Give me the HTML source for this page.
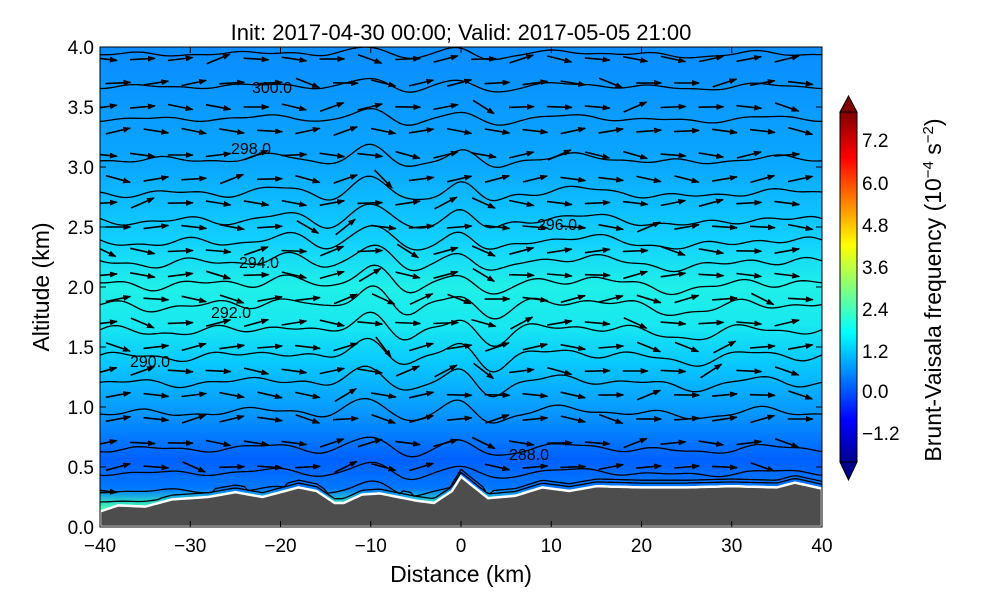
<!DOCTYPE html>
<html><head><meta charset="utf-8"><style>
html,body{margin:0;padding:0;background:#fff;}
svg{display:block;font-family:"Liberation Sans",sans-serif;}
</style></head><body>
<svg id="s" width="1000" height="600" xmlns="http://www.w3.org/2000/svg">
<defs>
<linearGradient id="bg" x1="0" y1="0" x2="0" y2="1">
<stop offset="0" stop-color="#0a8cff"/>
<stop offset="0.25" stop-color="#0aa8ff"/>
<stop offset="0.4" stop-color="#10d0ff"/>
<stop offset="0.5" stop-color="#20f0e8"/>
<stop offset="0.58" stop-color="#18e8f0"/>
<stop offset="0.66" stop-color="#08c8ff"/>
<stop offset="0.76" stop-color="#0898ff"/>
<stop offset="0.86" stop-color="#0060ff"/>
<stop offset="0.92" stop-color="#0078ff"/>
<stop offset="0.96" stop-color="#40ffb0"/>
<stop offset="1" stop-color="#c0ff40"/>
</linearGradient>
<linearGradient id="cb" x1="0" y1="1" x2="0" y2="0">
<stop offset="0" stop-color="#00008f"/>
<stop offset="0.12" stop-color="#0000ff"/>
<stop offset="0.37" stop-color="#00ffff"/>
<stop offset="0.62" stop-color="#ffff00"/>
<stop offset="0.87" stop-color="#ff0000"/>
<stop offset="1" stop-color="#800000"/>
</linearGradient>
<clipPath id="pc"><rect x="100" y="47" width="722" height="480"/></clipPath>
<marker id="ah" markerWidth="8" markerHeight="6" refX="7" refY="3" orient="auto" markerUnits="userSpaceOnUse"><path d="M0,0 L8,3 L0,6 z" fill="#000"/></marker>
</defs>
<rect x="100" y="47" width="722" height="480" fill="url(#bg)"/>
<g id="cont" clip-path="url(#pc)" fill="none" stroke="#000" stroke-width="1.3"></g>
<g id="arr" clip-path="url(#pc)" stroke="#000" stroke-width="1.6"></g>
<path id="ter" clip-path="url(#pc)" fill="#4d4d4d" stroke="#fff" stroke-width="2.5"/>
<g font-size="16" fill="#000">
<text x="252" y="93">300.0</text>
<text x="231" y="154">298.0</text>
<text x="537" y="230">296.0</text>
<text x="239" y="268">294.0</text>
<text x="211" y="318">292.0</text>
<text x="130" y="367">290.0</text>
<text x="509" y="460">288.0</text>
</g>
<rect x="100" y="47" width="722" height="480" fill="none" stroke="#000" stroke-width="1"/>
<g id="ticks" stroke="#000"></g>
<g font-size="19" fill="#000" id="tl"></g>
<text x="461" y="40" font-size="22" text-anchor="middle">Init: 2017-04-30 00:00; Valid: 2017-05-05 21:00</text>
<text x="461" y="582" font-size="23" text-anchor="middle">Distance (km)</text>
<text transform="translate(49,287) rotate(-90)" font-size="23" text-anchor="middle">Altitude (km)</text>
<rect x="840" y="112" width="17" height="350" fill="url(#cb)" stroke="#000" stroke-width="1"/>
<path d="M840,112 L848.5,96 L857,112 z" fill="#800000" stroke="#000"/>
<path d="M840,462 L848.5,480 L857,462 z" fill="#00008f" stroke="#000"/>
<g font-size="19" fill="#000">
<text x="862" y="147">7.2</text><text x="862" y="190">6.0</text><text x="862" y="232">4.8</text>
<text x="862" y="274">3.6</text><text x="862" y="316">2.4</text><text x="862" y="358">1.2</text>
<text x="862" y="398">0.0</text><text x="862" y="440">−1.2</text>
</g>
<text transform="translate(941,290) rotate(-90)" font-size="23" text-anchor="middle">Brunt-Vaisala frequency (10<tspan font-size="15" dy="-8">−4</tspan><tspan dy="8"> s</tspan><tspan font-size="15" dy="-8">−2</tspan><tspan dy="8">)</tspan></text>
</svg>
<script>
var NS="http://www.w3.org/2000/svg";
function X(k){return 100+(k+40)*722/80;}
function Y(a){return 527-a*120;}
function el(t,a,p){var e=document.createElementNS(NS,t);for(var k in a)e.setAttribute(k,a[k]);p.appendChild(e);return e;}
function g(x,c,w){return Math.exp(-(x-c)*(x-c)/(2*w*w));}
function terr(x){
 var pts=[[-40,0.13],[-38,0.18],[-35,0.17],[-32,0.23],[-28,0.25],[-25,0.29],[-22,0.25],[-18,0.33],[-16,0.3],[-14,0.2],[-13,0.2],[-11,0.27],[-9,0.28],[-5,0.22],[-3,0.2],[-1,0.3],[0,0.42],[1,0.36],[3,0.24],[6,0.26],[9,0.33],[12,0.3],[15,0.34],[20,0.33],[25,0.33],[30,0.34],[35,0.33],[37,0.37],[40,0.32]];
 for(var i=0;i<pts.length-1;i++){if(x>=pts[i][0]&&x<=pts[i+1][0]){var t=(x-pts[i][0])/(pts[i+1][0]-pts[i][0]);return pts[i][1]+t*(pts[i+1][1]-pts[i][1]);}}
 return 0.3;}
var d="M100,527";
for(var x=-40;x<=40;x+=0.5)d+=" L"+X(x).toFixed(1)+","+Y(terr(x)).toFixed(1);
d+=" L822,527 z";document.getElementById("ter").setAttribute("d",d);
function disp(x,a){
 var amp=Math.min(1,Math.max(0.35,1-Math.abs(a-1.9)/2.4));
 var v=0.2*g(x,-10,1.8)+0.14*g(x,0,1.5)-0.1*g(x,-6,1.6)-0.12*g(x,3.5,1.6)+0.06*g(x,-20,2.5)-0.05*g(x,-15,1.5)+0.06*g(x,12,3)-0.05*g(x,26,3)+0.04*g(x,33,2.5)
   +0.035*Math.sin(x*0.55+a*2.3)+0.02*Math.sin(x*1.1-a*4);
 return v*amp;}
var cg=document.getElementById("cont");
var levels=[0.22,0.3,0.45,0.65,0.95,1.2,1.42,1.63,1.84,2.02,2.2,2.37,2.55,2.78,3.06,3.4,3.67,3.94];
levels.forEach(function(a){
 var p="";
 for(var x=-40;x<=40;x+=0.4){
  var yy=a+disp(x,a);
  var t=terr(x)+0.03; if(a<0.5&&yy<t) yy=t+(a-0.2)*0.3;
  p+=(p?" L":"M")+X(x).toFixed(1)+","+Y(yy).toFixed(1);}
 el("path",{d:p},cg);});
var ag=document.getElementById("arr");
for(var a=0.3;a<4.0;a+=0.2){
 for(var x=-39.5;x<40;x+=4.2){
  var xx=x+((Math.round(a*5))%2)*1.5;
  if(a<terr(xx)+0.15)continue;
  var s=disp(xx+0.6,a)-disp(xx-0.6,a);
  var ang=Math.atan2(s*7,1)+0.22*Math.sin(xx*1.7+a*9)+0.12*Math.cos(xx*0.9-a*5);
  var L=25;
  var x0=X(xx),y0=Y(a);
  var dx=L*Math.cos(ang),dy=-L*Math.sin(ang);
  el("line",{x1:(x0-dx/2).toFixed(1),y1:(y0-dy/2).toFixed(1),x2:(x0+dx/2).toFixed(1),y2:(y0+dy/2).toFixed(1),"marker-end":"url(#ah)"},ag);}}
var tk=document.getElementById("ticks"),tl=document.getElementById("tl");
for(var k=-40;k<=40;k+=10){var xx=X(k);
 el("line",{x1:xx,y1:527,x2:xx,y2:521},tk);el("line",{x1:xx,y1:47,x2:xx,y2:53},tk);
 var t=el("text",{x:xx,y:552,"text-anchor":"middle"},tl);t.textContent=(k<0?"−":"")+Math.abs(k);}
for(var a=0;a<=4.0001;a+=0.5){var yy=Y(a);
 el("line",{x1:100,y1:yy,x2:106,y2:yy},tk);el("line",{x1:822,y1:yy,x2:816,y2:yy},tk);
 var t=el("text",{x:94,y:yy+7,"text-anchor":"end"},tl);t.textContent=a.toFixed(1);}
</script>
</body></html>
